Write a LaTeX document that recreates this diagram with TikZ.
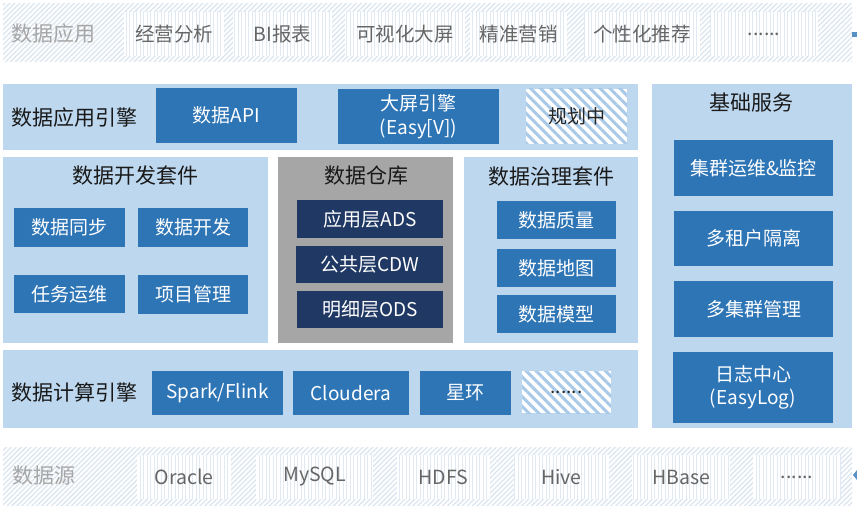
\documentclass[tikz,border=0pt]{standalone}
\usepackage{fontspec}
\setmainfont{Noto Sans CJK SC}
\usetikzlibrary{patterns.meta}
\definecolor{panelc}{HTML}{BDD7EE}
\definecolor{boxc}{HTML}{2E75B6}
\definecolor{navyc}{HTML}{203864}
\definecolor{grayc}{HTML}{A6A6A6}
\definecolor{hatchc}{HTML}{DCE6F0}
\definecolor{stripec}{HTML}{A9C9E8}
\definecolor{labelc}{HTML}{A6A6A6}
\definecolor{itemc}{HTML}{666666}
\newcommand{\fsz}[1]{\fontsize{#1pt}{1.25\dimexpr#1pt\relax}\selectfont}
\tikzset{
  cell/.style={inner sep=0pt, outer sep=0pt, anchor=north west, draw=none},
  panel/.style={cell, fill=panelc},
  graypanel/.style={cell, fill=grayc},
  bluebox/.style={cell, fill=boxc, text=white, font=\fsz{19}, align=center},
  navybox/.style={cell, fill=navyc, text=white, font=\fsz{19}},
  planbox/.style={cell, preaction={fill=white}, pattern={Lines[angle=-45,distance=7pt,line width=3pt]}, pattern color=stripec, text=black!85, font=\fsz{19}},
  band/.style={cell, preaction={fill=white}, pattern={Lines[angle=45,distance=3.5pt,line width=1.3pt]}, pattern color=hatchc},
  item/.style={cell, preaction={fill=white}, pattern={Lines[angle=90,distance=3.5pt,line width=0.9pt]}, pattern color=hatchc!85, text=itemc, font=\fsz{19.5}},
  bandlabel/.style={text=labelc, font=\fsz{21}, inner sep=0pt},
  ptitle/.style={text=black!90, font=\fsz{21}, inner sep=0pt},
}
\begin{document}
\begin{tikzpicture}[x=1pt,y=-1pt]
\useasboundingbox[fill=white] (0,0) rectangle (857,508);

% ---- top band: data applications
\node[band, minimum width=849pt, minimum height=58pt] (appband) at (3,4) {};
\node[bandlabel] (appL) at (54,34) {数据应用};
\node[item, minimum width=100pt, minimum height=44pt] (a1) at (124,12) {经营分析};
\node[item, minimum width=99pt, minimum height=44pt] (a2) at (233,12) {BI报表};
\node[item, minimum width=120pt, minimum height=44pt] (a3) at (345,12) {可视化大屏};
\node[item, minimum width=97pt, minimum height=44pt] (a4) at (470,12) {精准营销};
\node[item, minimum width=116pt, minimum height=44pt] (a5) at (584,12) {个性化推荐};
\node[item, minimum width=108pt, minimum height=44pt] (a6) at (710,12) {......};
\fill[boxc!80] (852,32) rectangle (857,37);

% ---- application engine
\node[panel, minimum width=635pt, minimum height=66pt] (appeng) at (3,84) {};
\node[ptitle] (appengT) at (75,118) {数据应用引擎};
\node[bluebox, minimum width=141pt, minimum height=55pt] (api) at (156,88) {数据API};
\node[bluebox, minimum width=161pt, minimum height=55pt] (scr) at (338,89) {大屏引擎\\(Easy[V])};
\node[planbox, minimum width=101pt, minimum height=55pt] (plan) at (526,89) {规划中};

% ---- basic services
\node[panel, minimum width=200pt, minimum height=344pt] (basic) at (652,84) {};
\node[ptitle] (basicT) at (751,103) {基础服务};
\node[bluebox, minimum width=159pt, minimum height=56pt] (ops) at (674,140) {集群运维\&监控};
\node[bluebox, minimum width=159pt, minimum height=55pt] (ten) at (674,211) {多租户隔离};
\node[bluebox, minimum width=159pt, minimum height=56pt] (mul) at (674,281) {多集群管理};
\node[bluebox, minimum width=160pt, minimum height=71pt] (log) at (673,352) {日志中心\\(EasyLog)};

% ---- development suite
\node[panel, minimum width=265pt, minimum height=186pt] (dev) at (3,157) {};
\node[ptitle] (devT) at (135,176) {数据开发套件};
\node[bluebox, minimum width=111pt, minimum height=39pt] (sync) at (14,208) {数据同步};
\node[bluebox, minimum width=110pt, minimum height=39pt] (devx) at (138,208) {数据开发};
\node[bluebox, minimum width=111pt, minimum height=38pt] (task) at (14,275) {任务运维};
\node[bluebox, minimum width=110pt, minimum height=39pt] (proj) at (138,275) {项目管理};

% ---- data warehouse
\node[graypanel, minimum width=175pt, minimum height=186pt] (dw) at (278,157) {};
\node[ptitle] (dwT) at (366,176) {数据仓库};
\node[navybox, minimum width=146pt, minimum height=38pt] (ads) at (297,200) {应用层ADS};
\node[navybox, minimum width=147pt, minimum height=37pt] (cdw) at (296,246) {公共层CDW};
\node[navybox, minimum width=146pt, minimum height=37pt] (ods) at (297,291) {明细层ODS};

% ---- governance suite
\node[panel, minimum width=174pt, minimum height=186pt] (gov) at (464,157) {};
\node[ptitle] (govT) at (551,177) {数据治理套件};
\node[bluebox, minimum width=119pt, minimum height=38pt] (qual) at (497,201) {数据质量};
\node[bluebox, minimum width=119pt, minimum height=38pt] (dmap) at (497,249) {数据地图};
\node[bluebox, minimum width=119pt, minimum height=38pt] (model) at (497,295) {数据模型};

% ---- compute engine
\node[panel, minimum width=635pt, minimum height=78pt] (comp) at (3,350) {};
\node[ptitle] (compT) at (75,392) {数据计算引擎};
\node[bluebox, minimum width=131pt, minimum height=44pt] (spark) at (152,371) {Spark/Flink};
\node[bluebox, minimum width=116pt, minimum height=44pt] (cloud) at (293,371) {Cloudera};
\node[bluebox, minimum width=91pt, minimum height=44pt] (xh) at (420,371) {星环};
\node[planbox, minimum width=89pt, minimum height=42pt] (cmore) at (522,371) {......};

% ---- bottom band: data sources
\node[band, minimum width=849pt, minimum height=58pt] (srcband) at (3,447) {};
\node[bandlabel] (srcL) at (44,476) {数据源};
\node[item, minimum width=94pt, minimum height=44pt] (s1) at (137,455) {Oracle};
\node[item, minimum width=117pt, minimum height=44pt] (s2) at (256,455) {MySQL};
\node[item, minimum width=93pt, minimum height=44pt] (s3) at (397,455) {HDFS};
\node[item, minimum width=95pt, minimum height=44pt] (s4) at (514,455) {Hive};
\node[item, minimum width=98pt, minimum height=44pt] (s5) at (632,455) {HBase};
\node[item, minimum width=88pt, minimum height=44pt] (s6) at (753,455) {......};
\fill[boxc!80] (853,475) -- (857,470) -- (857,480) -- cycle;
\end{tikzpicture}
\end{document}
